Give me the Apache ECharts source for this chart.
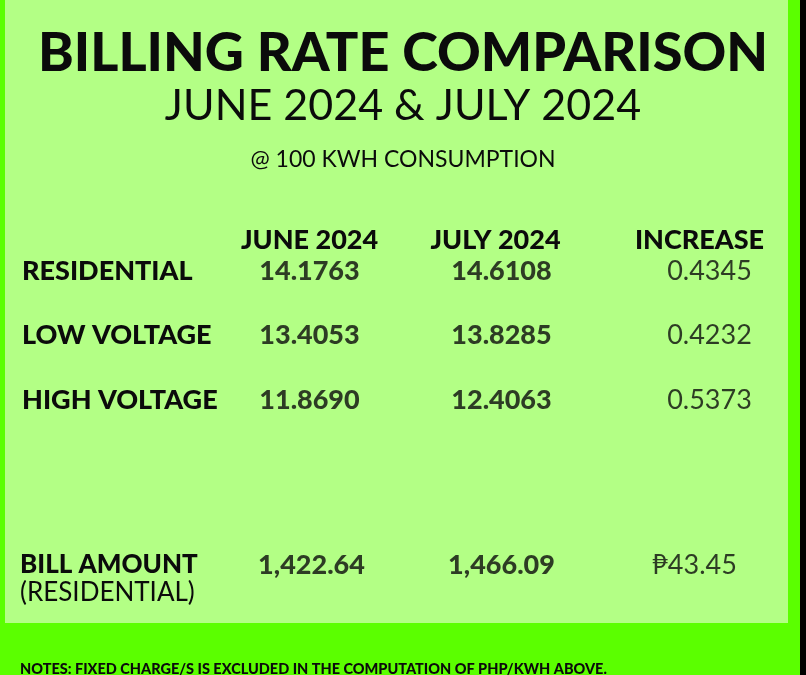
<!DOCTYPE html>
<html>
<head>
<meta charset="utf-8">
<script src="https://cdn.jsdelivr.net/npm/echarts@6/dist/echarts.min.js"></script>
<style>html,body{margin:0;padding:0;background:#5bff00;}#c{width:806px;height:675px;}</style>
</head>
<body>
<div id="c"></div>
<script>
const columns = ['JUNE 2024', 'JULY 2024', 'INCREASE'];
const rateRows = ['RESIDENTIAL', 'LOW VOLTAGE', 'HIGH VOLTAGE'];
const juneRates = [14.1763, 13.4053, 11.8690];
const julyRates = [14.6108, 13.8285, 12.4063];
const increaseRates = [0.4345, 0.4232, 0.5373];
const billRows = ['BILL AMOUNT'];
const billSub = '(RESIDENTIAL)';
const juneBill = [1422.64];
const julyBill = [1466.09];
const increaseBill = [43.45];
const titleText = 'BILLING RATE COMPARISON';
const subtitleText = 'JUNE 2024 & JULY 2024';
const consumptionText = '@ 100 KWH CONSUMPTION';
const notesText = 'NOTES: FIXED CHARGE/S IS EXCLUDED IN THE COMPUTATION OF PHP/KWH ABOVE.';

const BOLD = 'Lato';
const INK = '#0b0b0b';
const fmtRate = v => v.toFixed(4);
const fmtBill = v => v.toLocaleString('en-US', {minimumFractionDigits: 2, maximumFractionDigits: 2});

function colSeries(name, values, rows, col, gridIdx, fmt, weight, offset) {
  return {
    type: 'scatter', name: name,
    xAxisIndex: gridIdx, yAxisIndex: gridIdx,
    symbolSize: 0, silent: true,
    data: values.map((v, i) => [col, rows[i], v]),
    label: {
      show: true, position: 'inside', offset: offset || [0, 0],
      formatter: p => fmt(p.value[2]),
      fontFamily: BOLD, fontWeight: weight, fontSize: 27, color: INK
    }
  };
}

const chart = echarts.init(document.getElementById('c'), null, {renderer: 'canvas'});
chart.setOption({
  backgroundColor: '#5bff00',
  animation: false,
  graphic: [
    {type: 'rect', shape: {x: 5, y: 0, width: 783, height: 623}, style: {fill: '#b3ff85'}, z: -10},
    {type: 'rect', shape: {x: 800, y: 0, width: 6, height: 675}, style: {fill: '#000'}, z: -10}
  ],
  title: [
    {text: titleText, left: 'center', top: 22, textStyle: {fontFamily: BOLD, fontWeight: 900, fontSize: 54, color: INK}},
    {text: subtitleText, left: 'center', top: 80, textStyle: {fontFamily: 'Lato', fontWeight: 'normal', fontSize: 43, color: INK}},
    {text: consumptionText, left: 'center', top: 143, textStyle: {fontFamily: 'Lato', fontWeight: 'normal', fontSize: 23, color: INK}},
    {text: notesText, left: 15, top: 657, textStyle: {fontFamily: BOLD, fontWeight: 900, fontSize: 14.5, color: INK}}
  ],
  grid: [
    {left: 212, right: 9, top: 271, height: 129},
    {left: 212, right: 9, top: 545, height: 40}
  ],
  xAxis: [
    {type: 'category', gridIndex: 0, data: columns, position: 'top', boundaryGap: true,
      axisLine: {show: false}, axisTick: {show: false}, splitLine: {show: false},
      axisLabel: {interval: 0, hideOverlap: false, margin: 17, fontFamily: BOLD, fontWeight: 900, fontSize: 27, color: INK,
        formatter: (v, i) => i === 1 ? '{j|' + v + '}' : v,
        rich: {j: {fontFamily: BOLD, fontWeight: 900, fontSize: 27, color: INK, padding: [0, 18, 0, 0]}}}},
    {type: 'category', gridIndex: 1, data: columns, boundaryGap: true, show: false}
  ],
  yAxis: [
    {type: 'category', gridIndex: 0, data: rateRows, inverse: true, boundaryGap: false,
      axisLine: {show: false}, axisTick: {show: false}, splitLine: {show: false},
      axisLabel: {interval: 0, align: 'left', margin: 190, fontFamily: BOLD, fontWeight: 900, fontSize: 27, color: INK}},
    {type: 'category', gridIndex: 1, data: billRows, inverse: true, boundaryGap: true,
      axisLine: {show: false}, axisTick: {show: false}, splitLine: {show: false},
      axisLabel: {align: 'left', margin: 192,
        formatter: v => '{e| }\n{b|' + v + '}\n{r|' + billSub + '}',
        rich: {
          e: {fontFamily: BOLD, fontSize: 26, lineHeight: 28, color: INK},
          b: {fontFamily: BOLD, fontWeight: 900, fontSize: 26, lineHeight: 28, color: INK},
          r: {fontFamily: 'Lato', fontWeight: 'normal', fontSize: 26, lineHeight: 28, color: INK}
        }}}
  ],
  series: [
    colSeries('June', juneRates, rateRows, columns[0], 0, fmtRate, 900),
    colSeries('July', julyRates, rateRows, columns[1], 0, fmtRate, 900, [-3, 0]),
    colSeries('Increase', increaseRates, rateRows, columns[2], 0, fmtRate, 'normal', [10, 0]),
    colSeries('June bill', juneBill, billRows, columns[0], 1, fmtBill, 900, [2, 0]),
    colSeries('July bill', julyBill, billRows, columns[1], 1, fmtBill, 900, [-3, 0]),
    colSeries('Increase bill', increaseBill, billRows, columns[2], 1, v => '\u20B1' + v.toFixed(2), 'normal', [-5, 0])
  ]
});
</script>
</body>
</html>
